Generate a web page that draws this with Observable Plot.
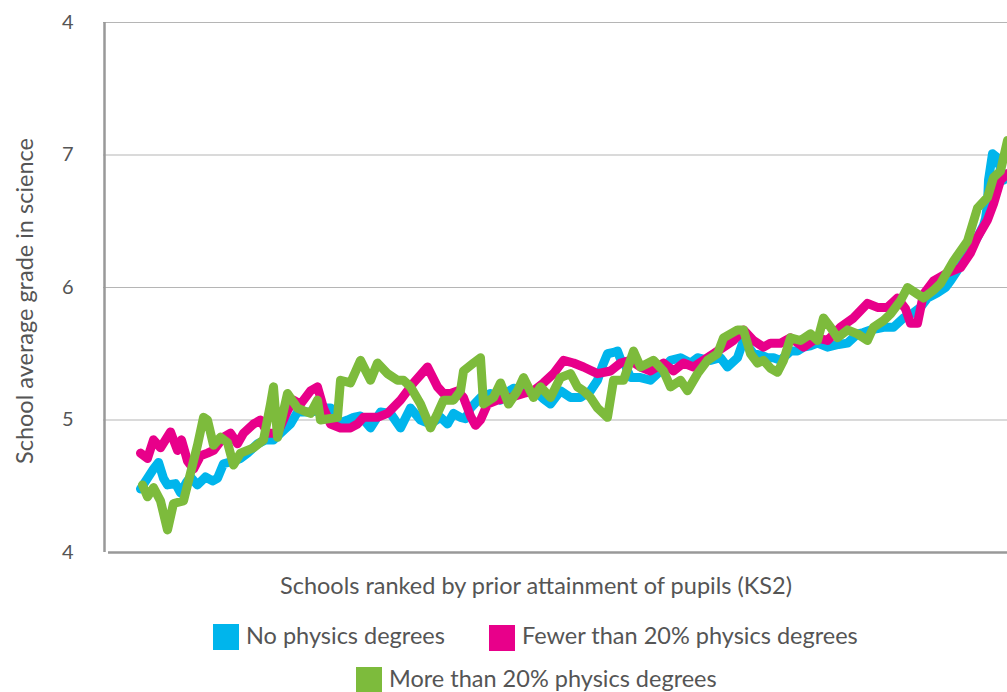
<!DOCTYPE html>
<html><head><meta charset="utf-8">
<script src="https://cdn.jsdelivr.net/npm/d3@7"></script>
<script src="https://cdn.jsdelivr.net/npm/@observablehq/plot@0.6"></script>
<style>
body{margin:0;background:#fff;font-family:Lato,"Open Sans",sans-serif;color:#555}
#wrap{position:relative;width:1007px;height:692px;overflow:hidden}
#chart{position:absolute;left:0;top:0}
.t{position:absolute;white-space:nowrap;line-height:1}
.sw{position:absolute;width:26px;height:26px}
</style></head>
<body><div id="wrap"><div id="chart"></div></div>
<script>
// School rank (0 = lowest prior attainment) and school average grade in science
const rankNone = [0,7,13,18,23,27,35,40,46,50,57,65,72,77,83,93,100,107,117,125,133,140,150,157,163,170,177,183,190,193,200,207,213,220,230,240,250,260,270,280,290,300,307,313,320,325,330,340,350,360,367,373,383,390,397,403,410,420,430,440,450,457,462,467,473,477,480,485,490,500,510,520,530,540,550,557,563,570,580,587,597,603,613,620,627,633,640,650,657,663,670,677,687,698,707,717,723,730,737,743,753,763,773,780,787,797,805,810,817,823,830,837,843,845,847,848,852,857,863,867];
const gradeNone = [4.48,4.56,4.63,4.68,4.56,4.51,4.52,4.45,4.53,4.57,4.51,4.57,4.54,4.56,4.67,4.69,4.71,4.75,4.82,4.85,4.85,4.90,4.97,5.06,5.06,5.06,5.07,5.09,5.09,5.00,4.98,5.00,5.02,5.03,4.94,5.06,5.05,4.94,5.09,5.00,4.97,5.02,4.97,5.05,5.02,5.01,5.09,5.17,5.20,5.15,5.21,5.24,5.22,5.22,5.20,5.16,5.12,5.22,5.17,5.17,5.22,5.30,5.41,5.50,5.51,5.52,5.46,5.41,5.32,5.32,5.30,5.37,5.45,5.47,5.43,5.47,5.46,5.45,5.47,5.40,5.47,5.60,5.50,5.49,5.47,5.47,5.45,5.52,5.52,5.55,5.56,5.58,5.55,5.57,5.58,5.65,5.66,5.68,5.69,5.70,5.70,5.77,5.81,5.85,5.92,5.96,6.00,6.05,6.13,6.20,6.29,6.38,6.47,6.52,6.63,6.81,7.01,6.98,6.81,6.83];

const rankFew = [0,7,13,20,25,30,37,41,47,53,60,67,73,83,90,97,103,113,120,127,137,147,153,160,170,177,183,190,200,210,217,223,237,247,260,273,280,287,297,303,310,317,323,330,335,340,347,357,370,383,393,403,413,423,433,443,457,470,480,490,500,510,523,533,543,553,563,573,583,593,603,613,623,630,640,650,663,677,687,700,713,727,737,747,757,765,770,777,783,793,807,820,830,837,847,853,860,867];
const gradeFew = [4.75,4.71,4.85,4.79,4.85,4.91,4.77,4.85,4.69,4.63,4.73,4.75,4.77,4.87,4.90,4.82,4.90,4.97,5.00,4.90,4.90,5.07,5.15,5.12,5.22,5.25,5.09,4.97,4.94,4.94,4.97,5.02,5.02,5.05,5.15,5.28,5.34,5.40,5.25,5.20,5.20,5.22,5.17,5.03,4.96,5.00,5.12,5.15,5.17,5.20,5.22,5.28,5.35,5.45,5.43,5.40,5.35,5.37,5.43,5.45,5.40,5.37,5.43,5.37,5.43,5.40,5.45,5.50,5.55,5.60,5.68,5.60,5.55,5.58,5.58,5.62,5.55,5.62,5.60,5.70,5.77,5.88,5.85,5.85,5.92,5.84,5.73,5.73,5.95,6.05,6.11,6.15,6.26,6.38,6.51,6.63,6.81,6.86,6.94];

const rankMore = [2,7,13,20,27,33,43,50,57,63,67,73,80,87,93,100,113,123,130,133,137,147,157,163,170,177,180,197,200,210,220,230,237,247,257,263,270,280,290,297,303,313,320,323,333,340,343,353,360,368,377,383,393,400,410,420,430,437,443,450,457,467,473,483,493,500,513,523,530,540,547,557,567,577,583,597,603,610,617,623,630,637,643,650,660,670,677,683,690,697,707,717,727,733,743,750,760,767,777,783,793,800,813,827,837,847,853,860,867];
const gradeMore = [4.51,4.42,4.49,4.39,4.17,4.37,4.39,4.60,4.81,5.02,5.00,4.81,4.87,4.83,4.66,4.75,4.79,4.85,5.12,5.25,4.87,5.20,5.09,5.07,5.05,5.15,5.00,5.02,5.30,5.28,5.45,5.30,5.43,5.35,5.30,5.30,5.25,5.12,4.94,5.05,5.15,5.15,5.22,5.37,5.43,5.47,5.12,5.17,5.28,5.12,5.22,5.32,5.17,5.25,5.17,5.32,5.35,5.25,5.22,5.17,5.09,5.02,5.30,5.30,5.52,5.40,5.45,5.37,5.25,5.30,5.22,5.35,5.45,5.50,5.62,5.68,5.68,5.50,5.43,5.45,5.39,5.36,5.45,5.62,5.60,5.65,5.60,5.77,5.70,5.62,5.68,5.65,5.60,5.70,5.75,5.80,5.90,6.00,5.95,5.92,5.98,6.03,6.20,6.35,6.60,6.68,6.83,6.88,7.11];

const seriesNames = ["No physics degrees","Fewer than 20% physics degrees","More than 20% physics degrees"];
const seriesColors = ["#00b5ec","#e8008a","#7dbb3c"];
const yTicks = [4,5,6,7,8];
const yTickLabels = ["4","5","6","7","4"];
const xLabel = "Schools ranked by prior attainment of pupils (KS2)";
const yLabel = "School average grade in science";

const toRows = (ranks, grades, s) => ranks.map((r,i)=>({rank:r, grade:grades[i], series:s}));
const rows = [
  ...toRows(rankNone, gradeNone, seriesNames[0]),
  ...toRows(rankFew, gradeFew, seriesNames[1]),
  ...toRows(rankMore, gradeMore, seriesNames[2])
];

const chart = Plot.plot({
  width: 1007, height: 560,
  marginLeft: 100, marginRight: 0, marginTop: 22, marginBottom: 8,
  style: {fontFamily: "Lato, sans-serif", background: "#fff", overflow: "visible"},
  x: {domain: [-40, 867], axis: null},
  y: {domain: [4, 8], axis: null},
  color: {domain: seriesNames, range: seriesColors},
  marks: [
    Plot.ruleY(yTicks.slice(1), {x1: -37, x2: 867, stroke: "#b5b5b5", strokeWidth: 1.2}),
    Plot.axisY(yTicks, {tickSize: 0, tickPadding: 27, tickFormat: (d,i)=>yTickLabels[i], fontSize: 20, fill: "#555", label: null}),
    Plot.ruleX([-36], {y1: 4, y2: 8, stroke: "#999", strokeWidth: 2.5}),
    Plot.ruleY([4], {x1: -32, x2: 867, stroke: "#999", strokeWidth: 2.5}),
    Plot.line(rows, {x: "rank", y: "grade", z: "series", stroke: "series", strokeWidth: 9, strokeLinejoin: "round", strokeLinecap: "round", clip: true})
  ]
});
const wrap = document.getElementById("wrap");
document.getElementById("chart").appendChild(chart);

function addText(txt, left, top, size, extra) {
  const d = document.createElement("div");
  d.className = "t"; d.textContent = txt;
  d.style.left = left + "px"; d.style.top = top + "px"; d.style.fontSize = size + "px";
  if (extra) Object.assign(d.style, extra);
  wrap.appendChild(d); return d;
}
function addSwatch(color, left, top) {
  const d = document.createElement("div");
  d.className = "sw"; d.style.background = color;
  d.style.left = left + "px"; d.style.top = top + "px";
  wrap.appendChild(d);
}
addText(xLabel, 280, 574, 23.5);
addText(yLabel, 25, 301, 23.5, {transform: "translate(-50%,-50%) rotate(-90deg)"});
addSwatch(seriesColors[0], 213, 624); addText(seriesNames[0], 246, 624, 23.5);
addSwatch(seriesColors[1], 489, 625); addText(seriesNames[1], 522, 624, 23.5);
addSwatch(seriesColors[2], 356, 667); addText(seriesNames[2], 389, 667, 23.5);
</script></body></html>
